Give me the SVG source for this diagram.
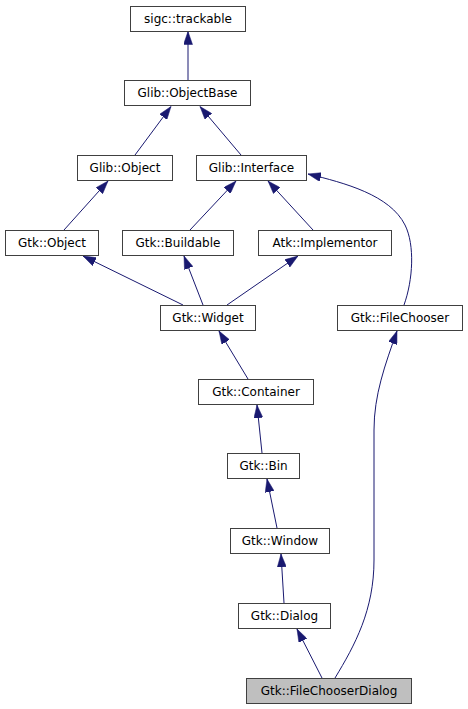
<svg xmlns="http://www.w3.org/2000/svg" width="468" height="709" viewBox="0 0 468 709">
<style>
.n rect{fill:#ffffff;stroke:#404040;stroke-width:1}
.n.cur rect{fill:#bfbfbf}
.n text{font-family:"DejaVu Sans","Liberation Sans",sans-serif;font-size:12px;fill:#000000;text-anchor:middle}
.e path{fill:none;stroke:#191970;stroke-width:1;marker-end:url(#ah)}
</style>
<defs>
<marker id="ah" markerUnits="userSpaceOnUse" viewBox="0 0 13 9" refX="13" refY="4.5" markerWidth="13" markerHeight="9" orient="auto">
<path d="M0,0 L13,4.5 L0,9 z" fill="#191970" stroke="#191970" stroke-width="0.5"/>
</marker>
</defs>
<rect width="468" height="709" fill="#ffffff"/>
<g id="edges" class="e">
<path d="M188,80 L188,31.5"/>
<path d="M135,155 L171,106.5"/>
<path d="M241,155 L200,106.5"/>
<path d="M404,305 C413,280 415,245 405,225 C390,195 345,183 308,174"/>
<path d="M64,230 L108,181"/>
<path d="M190,230 L236,181"/>
<path d="M313,230 L268,181"/>
<path d="M183,305 L83,256"/>
<path d="M203,305 L184,256"/>
<path d="M227,305 L298,256"/>
<path d="M248,379 L219,331"/>
<path d="M262,453 L257,405"/>
<path d="M277,528 L267,479"/>
<path d="M284,603 L281,554"/>
<path d="M322,678 L297,629"/>
<path d="M335,678 C355,645 374,610 374,560 L374,430 C374,395 385,365 397,331"/>
</g>
<g id="sigc_trackable" class="n"><rect x="130.5" y="6.5" width="115" height="25"/><text x="188" y="23">sigc::trackable</text></g>
<g id="Glib_ObjectBase" class="n"><rect x="124.5" y="80.5" width="126" height="25"/><text x="187.5" y="97">Glib::ObjectBase</text></g>
<g id="Glib_Object" class="n"><rect x="77.5" y="155.5" width="95" height="25"/><text x="125" y="172">Glib::Object</text></g>
<g id="Glib_Interface" class="n"><rect x="196.5" y="155.5" width="110" height="25"/><text x="251.5" y="172">Glib::Interface</text></g>
<g id="Gtk_Object" class="n"><rect x="5.5" y="230.5" width="93" height="25"/><text x="52" y="247">Gtk::Object</text></g>
<g id="Gtk_Buildable" class="n"><rect x="122.5" y="230.5" width="111" height="25"/><text x="178" y="247">Gtk::Buildable</text></g>
<g id="Atk_Implementor" class="n"><rect x="258.5" y="230.5" width="133" height="25"/><text x="325" y="247">Atk::Implementor</text></g>
<g id="Gtk_Widget" class="n"><rect x="160.5" y="305.5" width="95" height="25"/><text x="208" y="322">Gtk::Widget</text></g>
<g id="Gtk_FileChooser" class="n"><rect x="337.5" y="305.5" width="125" height="25"/><text x="400" y="322">Gtk::FileChooser</text></g>
<g id="Gtk_Container" class="n"><rect x="198.5" y="379.5" width="115" height="25"/><text x="256" y="396">Gtk::Container</text></g>
<g id="Gtk_Bin" class="n"><rect x="227.5" y="453.5" width="72" height="25"/><text x="263.5" y="470">Gtk::Bin</text></g>
<g id="Gtk_Window" class="n"><rect x="230.5" y="528.5" width="99" height="25"/><text x="280" y="545">Gtk::Window</text></g>
<g id="Gtk_Dialog" class="n"><rect x="238.5" y="603.5" width="92" height="25"/><text x="284.5" y="620">Gtk::Dialog</text></g>
<g id="Gtk_FileChooserDialog" class="n cur"><rect x="246.5" y="678.5" width="165" height="25"/><text x="329" y="695">Gtk::FileChooserDialog</text></g>
</svg>
